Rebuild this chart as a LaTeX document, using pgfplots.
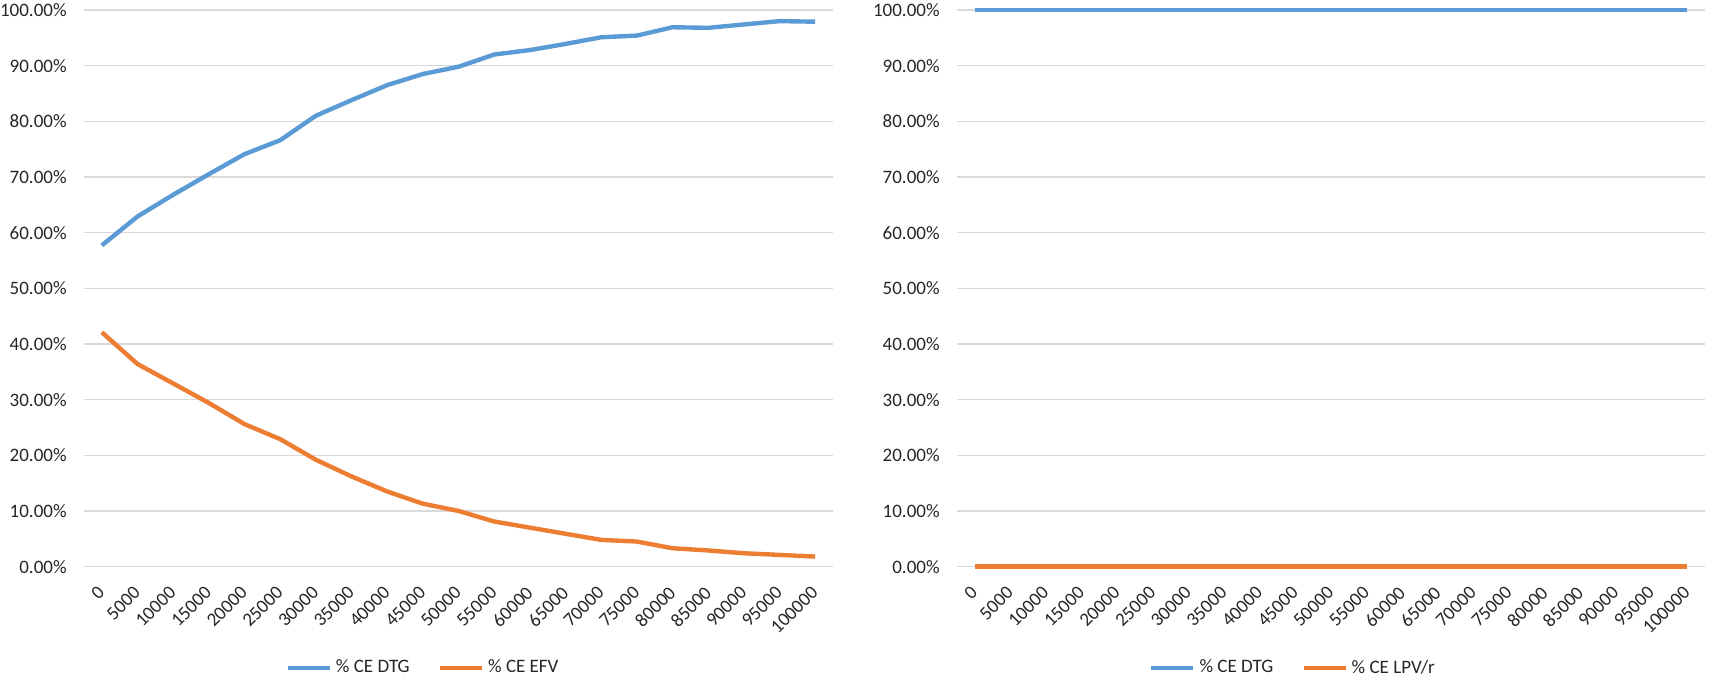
\documentclass[border=0pt]{standalone}
\usepackage{pgfplots}
\pgfplotsset{compat=1.18}
\usepackage{pgfplotstable}
\usepackage{fontspec}
\setmainfont{Carlito}
\definecolor{xlblue}{HTML}{5B9BD5}
\definecolor{xlorange}{HTML}{ED7D31}
\definecolor{gridgray}{HTML}{D9D9D9}
\definecolor{txt}{HTML}{262626}

\pgfplotstableread{
x dtg efv
0 57.7 42.1
1 62.9 36.4
2 66.8 32.9
3 70.5 29.4
4 74.1 25.6
5 76.6 22.9
6 81.0 19.2
7 83.8 16.2
8 86.5 13.5
9 88.5 11.3
10 89.8 10.0
11 92.0 8.1
12 92.8 7.0
13 93.9 5.9
14 95.1 4.8
15 95.4 4.5
16 96.9 3.3
17 96.8 2.9
18 97.4 2.4
19 98.0 2.1
20 97.9 1.8
}\lefttable

\pgfplotstableread{
x dtg lpv
0 100 0
1 100 0
2 100 0
3 100 0
4 100 0
5 100 0
6 100 0
7 100 0
8 100 0
9 100 0
10 100 0
11 100 0
12 100 0
13 100 0
14 100 0
15 100 0
16 100 0
17 100 0
18 100 0
19 100 0
20 100 0
}\righttable

\pgfplotsset{
  xlchart/.style={
    scale only axis,
    width=374.5pt, height=278.3pt,
    anchor=south west,
    xmin=-0.5, xmax=20.5,
    ymin=0, ymax=100,
    clip=false,
    axis line style={draw=none},
    major tick length=0pt,
    ymajorgrids,
    grid style={gridgray, line width=0.75pt},
    xtick={0,...,20},
    xticklabels={0,5000,10000,15000,20000,25000,30000,35000,40000,45000,50000,55000,60000,65000,70000,75000,80000,85000,90000,95000,100000},
    ytick={0,10,...,100},
    yticklabels={0.00\%,10.00\%,20.00\%,30.00\%,40.00\%,50.00\%,60.00\%,70.00\%,80.00\%,90.00\%,100.00\%},
    tick label style={font=\fontsize{9.5}{11}\selectfont, text=txt},
    yticklabel style={anchor=east, inner sep=0pt, xshift=-8.5pt},
    xticklabel style={xshift=-2.5pt, yshift=-9pt, rotate=45, anchor=north east, inner sep=0pt},
    legend columns=2,
    legend style={draw=none, fill=none, font=\fontsize{9.5}{11}\selectfont, text=txt,
      anchor=center, inner sep=0pt,
      /tikz/every even column/.append style={column sep=12pt}},
    legend image code/.code={\draw[##1, line width=2.2pt] (0pt,0pt) -- (21pt,0pt);},
    every axis plot/.append style={line width=2.2pt, line join=round, mark=none},
  }
}

\begin{document}
\begin{tikzpicture}
\useasboundingbox (0,0) rectangle (855pt,-339.5pt);
\begin{axis}[xlchart, at={(42pt,-283.3pt)},
  legend style={at={(0.454,-0.182)}}]
\addplot[xlblue] table[x=x, y=dtg] {\lefttable};
\addplot[xlorange] table[x=x, y=efv] {\lefttable};
\legend{\% CE DTG, \% CE EFV}
\end{axis}
\begin{axis}[xlchart, at={(478.5pt,-283.3pt)}, width=374pt,
  legend style={at={(0.4505,-0.182)}}]
\addplot[xlblue] table[x=x, y=dtg] {\righttable};
\addplot[xlorange] table[x=x, y=lpv] {\righttable};
\legend{\% CE DTG, \% CE LPV/r}
\end{axis}
\end{tikzpicture}
\end{document}
